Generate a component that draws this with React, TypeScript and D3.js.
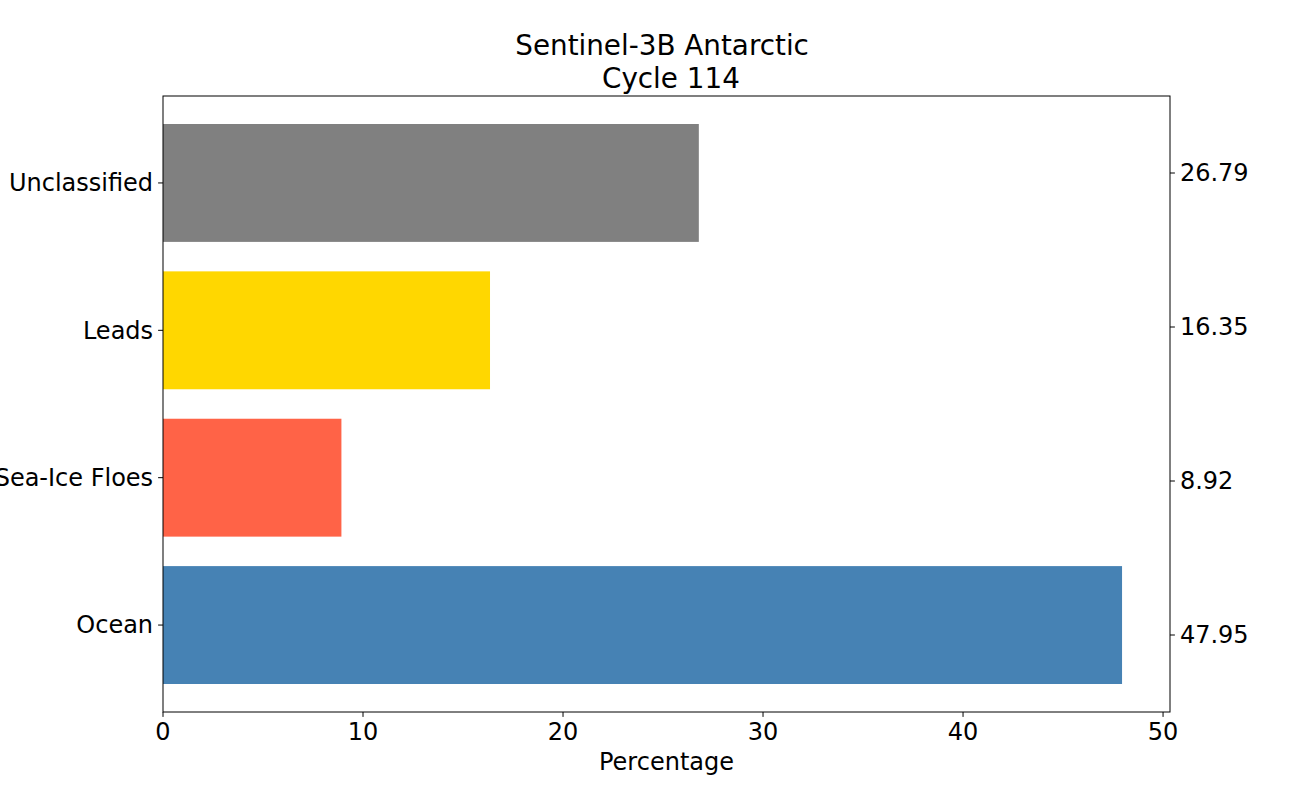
import React from 'react';
import * as d3 from 'd3';

const categories = ['Ocean', 'Sea-Ice Floes', 'Leads', 'Unclassified'];
const percentages = [47.95, 8.92, 16.35, 26.79];
const barColors = ['#4682b4', '#ff6347', '#ffd700', '#808080'];
// twin axis on the right: fixed [0, 1] scale, one label per quarter
const rightTickPositions = [0.125, 0.375, 0.625, 0.875];
const rightTickLabels = ['47.95', '8.92', '16.35', '26.79'];
const xTicks = [0, 10, 20, 30, 40, 50];
// the original title has a space around the line break
const titleLines = ['Sentinel-3B Antarctic ', ' Cycle 114'];

const W = 1300;
const H = 800;
const margin = { top: 96, right: 130, bottom: 88, left: 163 };
const font = 'DejaVu Sans, sans-serif';
const labelSize = 24;

const App = () => {
  const x0 = margin.left;
  const x1 = W - margin.right;
  const y0 = margin.top;
  const y1 = H - margin.bottom;

  const xMax = d3.max(percentages)! * 1.05;
  const x = d3.scaleLinear().domain([0, xMax]).range([x0, x1]);
  const n = categories.length;
  const pad = (n - 1 + 0.8) * 0.05;
  const y = d3.scaleLinear().domain([-0.4 - pad, n - 1 + 0.4 + pad]).range([y1, y0]);
  const yRight = d3.scaleLinear().domain([0, 1]).range([y1, y0]);
  const tick = 4.9;

  return (
    <svg width={W} height={H} style={{ position: 'absolute', left: 0, top: 0, background: '#fff' }}
      fontFamily={font}>
      {titleLines.map((t, i) => (
        <text key={t} x={(x0 + x1) / 2} y={55 + i * 32.5} textAnchor="middle" fontSize={27.8}
          fill="#000" style={{ whiteSpace: 'pre' }}>{t}</text>
      ))}
      {percentages.map((v, i) => (
        <rect key={categories[i]} x={x(0)} y={y(i + 0.4)} width={x(v) - x(0)}
          height={y(i - 0.4) - y(i + 0.4)} fill={barColors[i]} />
      ))}
      <rect x={x0} y={y0} width={x1 - x0} height={y1 - y0} fill="none" stroke="#000" strokeWidth={1} />
      {categories.map((c, i) => (
        <g key={c}>
          <line x1={x0} x2={x0 - tick} y1={y(i)} y2={y(i)} stroke="#000" />
          <text x={x0 - tick - 5} y={y(i)} dy="0.35em" textAnchor="end" fontSize={labelSize}>{c}</text>
        </g>
      ))}
      {xTicks.map(t => (
        <g key={t}>
          <line x1={x(t)} x2={x(t)} y1={y1} y2={y1 + tick} stroke="#000" />
          <text x={x(t)} y={y1 + tick + 5} dy="0.76em" textAnchor="middle" fontSize={labelSize}>{t}</text>
        </g>
      ))}
      <text x={(x0 + x1) / 2} y={770} textAnchor="middle" fontSize={labelSize}>Percentage</text>
      {rightTickPositions.map((p, i) => (
        <g key={p}>
          <line x1={x1} x2={x1 + tick} y1={yRight(p)} y2={yRight(p)} stroke="#000" />
          <text x={x1 + tick + 5} y={yRight(p)} dy="0.35em" textAnchor="start" fontSize={labelSize}>{rightTickLabels[i]}</text>
        </g>
      ))}
    </svg>
  );
};

export default App;
